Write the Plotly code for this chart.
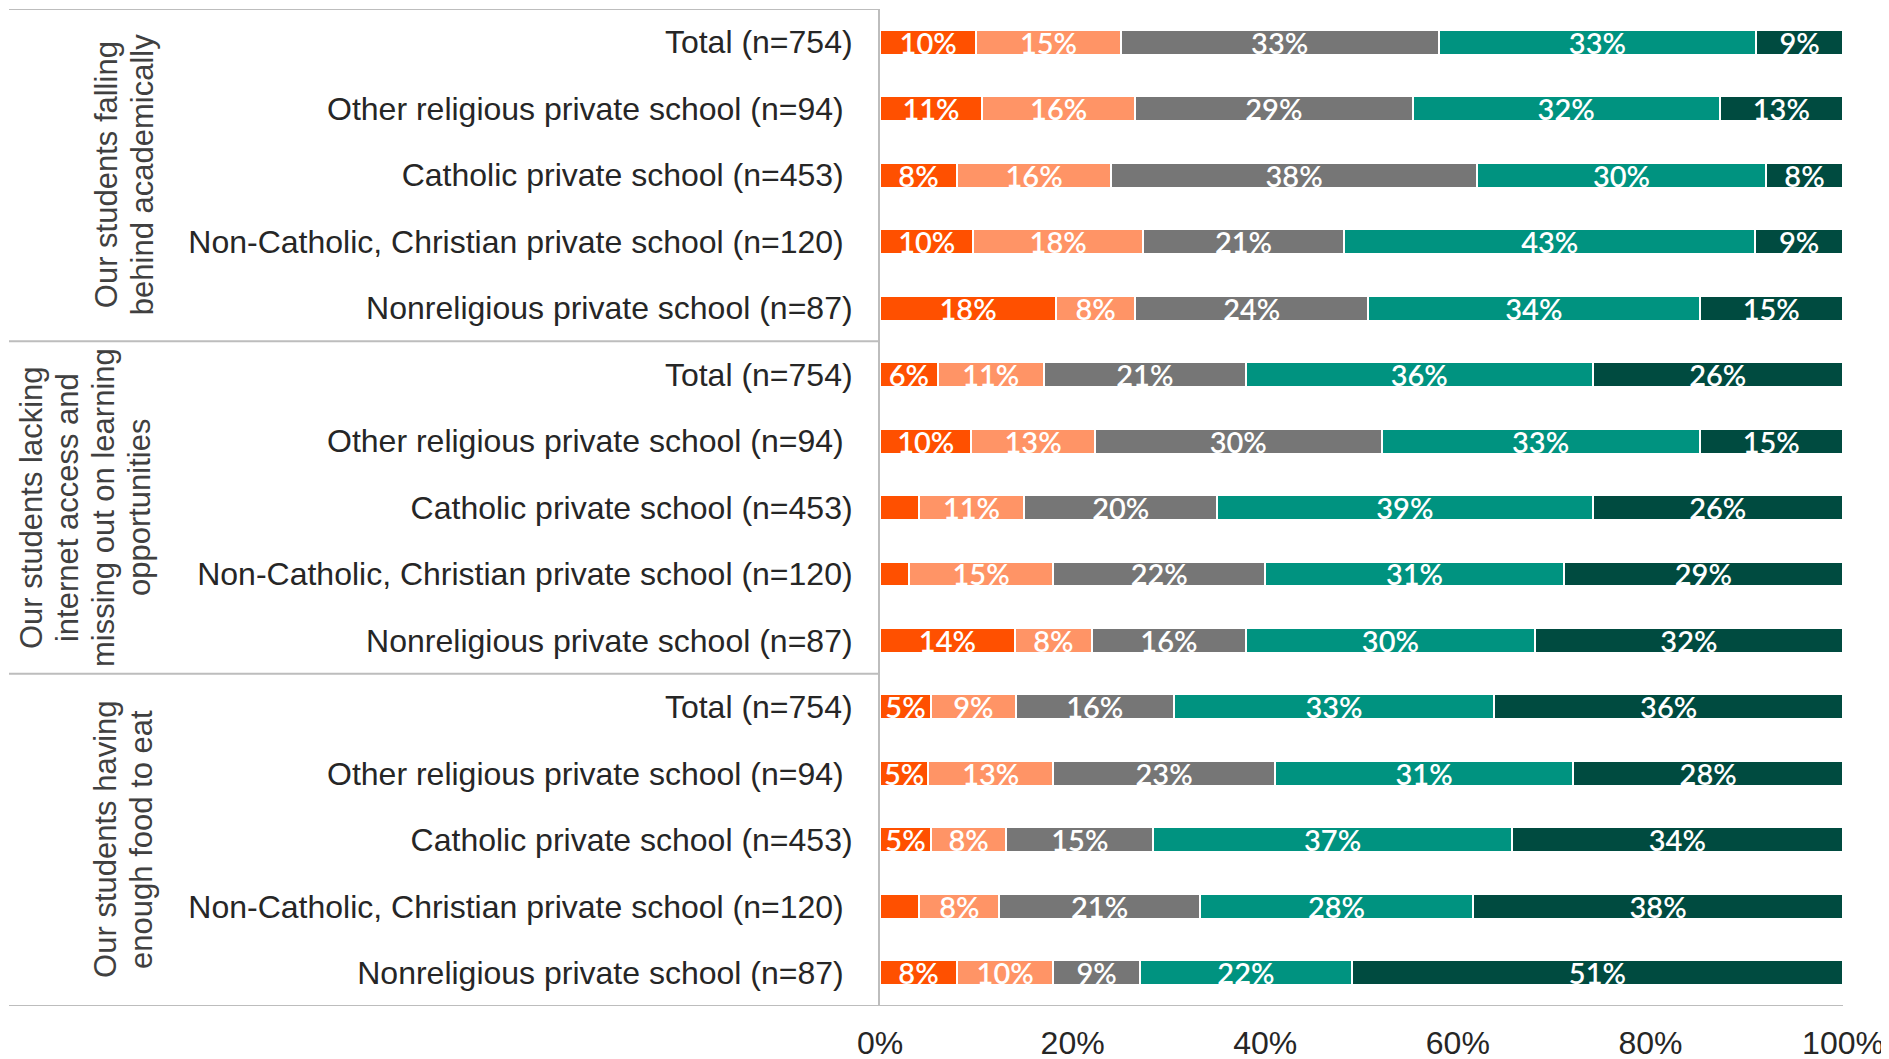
import plotly.graph_objects as go

# ---- data ----
group_labels = [
    ["Our students falling", "behind academically"],
    ["Our students lacking", "internet access and", "missing out on learning", "opportunities"],
    ["Our students having", "enough food to eat"],
]
row_labels = [
    "Total (n=754)", "Other religious private school (n=94)\u00a0", "Catholic private school (n=453)\u00a0",
    "Non-Catholic, Christian private school (n=120)\u00a0", "Nonreligious private school (n=87)",
    "Total (n=754)", "Other religious private school (n=94)\u00a0", "Catholic private school (n=453)",
    "Non-Catholic, Christian private school (n=120)", "Nonreligious private school (n=87)",
    "Total (n=754)", "Other religious private school (n=94)\u00a0", "Catholic private school (n=453)",
    "Non-Catholic, Christian private school (n=120)\u00a0", "Nonreligious private school (n=87)\u00a0",
]
series_names = ["Response 1", "Response 2", "Response 3", "Response 4", "Response 5"]
s1 = [10, 10.6, 8, 9.7, 18.3, 6, 9.5, 4, 3, 14, 5.3, 5, 5.3, 4.1, 8]
s2 = [15, 15.9, 16, 17.6, 8.2, 11, 12.8, 11, 15, 8, 8.8, 13, 7.8, 8.3, 10]
s3 = [33, 28.8, 38, 20.9, 24.2, 21, 29.8, 20, 22, 16, 16.4, 23, 15.3, 20.8, 9]
s4 = [33, 31.9, 30, 42.7, 34.4, 36, 33.0, 39, 31, 30, 33.3, 31, 37.2, 28.4, 22]
s5 = [9, 12.8, 8, 9.1, 14.9, 26, 14.9, 26, 29, 32, 36.2, 28, 34.4, 38.4, 51]
x_ticks = [0, 20, 40, 60, 80, 100]
x_ticktext = ["0%", "20%", "40%", "60%", "80%", "100%"]

colors = ["#FF5000", "#FF9466", "#767676", "#009380", "#004B40"]
rows = list(range(len(row_labels)))

ARIAL = "Liberation Sans, Arial, sans-serif"

fig = go.Figure()
for name, vals, col in zip(series_names, [s1, s2, s3, s4, s5], colors):
    fig.add_trace(go.Bar(
        y=rows, x=vals, orientation="h", name=name,
        marker=dict(color=col, line=dict(color="white", width=2)),
        text=[f"{v:.0f}%" if v >= 4.5 else "" for v in vals],
        textposition="inside", insidetextanchor="middle",
        constraintext="none", textangle=0,
        textfont=dict(family="Lato", size=29, color="white", weight=600),
        hoverinfo="skip",
    ))

LINE = "#BDBDBD"
plot_w = 963
left_x = (9 - 880) / plot_w
shapes = []
for yv in [-0.5, 4.5, 9.5]:
    shapes.append(dict(type="line", xref="paper", yref="y", x0=left_x, x1=0,
                       y0=yv, y1=yv, line=dict(color=LINE, width=2)))
shapes.append(dict(type="line", xref="paper", yref="y", x0=left_x, x1=1,
                   y0=14.5, y1=14.5, line=dict(color=LINE, width=2)))

annotations = []
line_step = 36
for g, (lines, xc) in enumerate(zip(group_labels, [-0.785, -0.825, -0.785])):
    n = len(lines)
    for i, ln in enumerate(lines):
        annotations.append(dict(
            text=ln, xref="paper", yref="y", x=xc, y=2 + 5 * g,
            xshift=(i - (n - 1) / 2) * line_step,
            textangle=-90, showarrow=False, align="center",
            xanchor="center", yanchor="middle",
            font=dict(family=ARIAL, size=31, color="#404040"),
        ))

fig.update_layout(
    width=1889, height=1059,
    barmode="stack", bargap=0.625,
    showlegend=False,
    paper_bgcolor="white", plot_bgcolor="white",
    margin=dict(l=872, r=54, t=1, b=61, autoexpand=False),
    shapes=shapes, annotations=annotations,
    xaxis=dict(range=[0, 100], tickvals=x_ticks, ticktext=x_ticktext,
               showgrid=False, zeroline=False, showline=False, automargin=False,
               ticks="outside", ticklen=9, tickcolor="rgba(0,0,0,0)",
               tickfont=dict(family=ARIAL, size=32, color="#262626")),
    yaxis=dict(range=[14.5, -0.5], tickvals=rows, ticktext=row_labels,
               showgrid=False, zeroline=False, showline=True, automargin=False,
               linecolor=LINE, linewidth=2,
               ticks="outside", ticklen=19, tickcolor="rgba(0,0,0,0)",
               tickfont=dict(family=ARIAL, size=32, color="#262626")),
)

fig.write_html("out.html")
